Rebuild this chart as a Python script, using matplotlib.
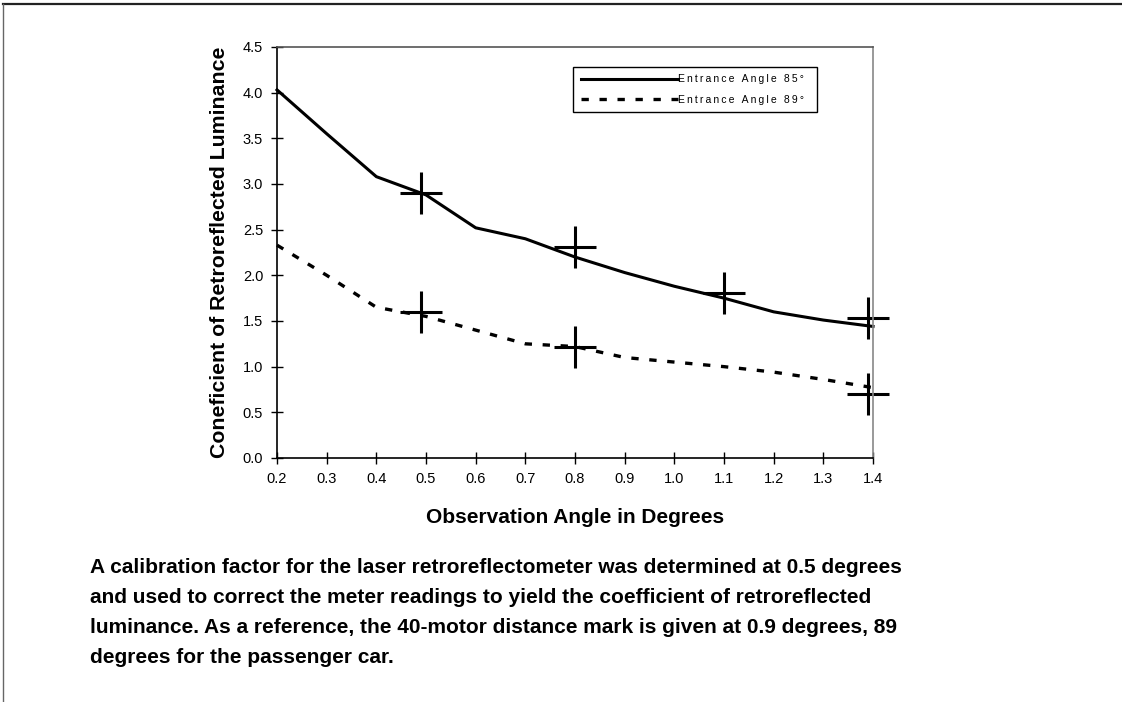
import numpy as np
import matplotlib.pyplot as plt
from matplotlib.lines import Line2D

plt.rcParams['font.family'] = ['Liberation Sans', 'DejaVu Sans']

# observation angle (degrees)
obs_angle = [0.2, 0.3, 0.4, 0.5, 0.6, 0.7, 0.8, 0.9, 1.0, 1.1, 1.2, 1.3, 1.4]
# coefficient of retroreflected luminance, fitted curves
ra_85 = [4.03, 3.55, 3.08, 2.88, 2.52, 2.40, 2.20, 2.03, 1.88, 1.75, 1.60, 1.51, 1.44]
ra_89 = [2.33, 2.00, 1.65, 1.55, 1.40, 1.25, 1.22, 1.10, 1.05, 1.00, 0.94, 0.86, 0.77]

# measured points (laser retroreflectometer)
meas_x_85 = [0.49, 0.80, 1.10, 1.39]
meas_y_85 = [2.90, 2.31, 1.81, 1.53]
meas_x_89 = [0.49, 0.80, 1.39]
meas_y_89 = [1.60, 1.21, 0.70]

series_labels = ['Entrance Angle 85°', 'Entrance Angle 89°']

x_ticks = np.arange(0.2, 1.41, 0.1)
y_ticks = np.arange(0.0, 4.51, 0.5)

caption = ("A calibration factor for the laser retroreflectometer was determined at 0.5 degrees\n"
           "and used to correct the meter readings to yield the coefficient of retroreflected\n"
           "luminance. As a reference, the 40-motor distance mark is given at 0.9 degrees, 89\n"
           "degrees for the passenger car.")


def spaced(s):
    # widen letter spacing with thin spaces
    return '\u2009'.join(s)


fig = plt.figure(figsize=(11.22, 7.02), dpi=100)
ax = fig.add_axes([0.2469, 0.3476, 0.5312, 0.5855])

ax.plot(obs_angle, ra_85, color='black', lw=2.2, label=spaced(series_labels[0]),
        clip_on=False)
ax.plot(obs_angle, ra_89, color='black', lw=2.4, linestyle=(0, (2.2, 3.2)),
        label=spaced(series_labels[1]), clip_on=False)
ax.plot(meas_x_85, meas_y_85, '+', color='black', ms=30, mew=2.2, clip_on=False)
ax.plot(meas_x_89, meas_y_89, '+', color='black', ms=30, mew=2.2, clip_on=False)

ax.set_xlim(0.2, 1.4)
ax.set_ylim(0.0, 4.5)
ax.set_xticks(x_ticks)
ax.set_yticks(y_ticks)
ax.set_xticklabels(['%.1f' % v for v in x_ticks])
ax.set_yticklabels(['%.1f' % v for v in y_ticks])
ax.tick_params(direction='inout', length=8, width=1, labelsize=10.5, pad=6,
               colors='black')

ax.spines['left'].set_color('black')
ax.spines['bottom'].set_color('black')
ax.spines['top'].set_color('#555555')
ax.spines['right'].set_color('#888888')
for s in ax.spines.values():
    s.set_linewidth(1.2)

ax.set_xlabel('Observation Angle in Degrees', fontsize=15, fontweight='bold',
              labelpad=16)
ax.set_ylabel('Coneficient of Retroreflected Luminance', fontsize=15.3,
              fontweight='bold', labelpad=10)

leg = ax.legend(loc='upper left', bbox_to_anchor=(0.497, 0.835, 0.409, 0.116),
                mode='expand', borderaxespad=0, fontsize=7.5, handlelength=9.4,
                handletextpad=0, labelspacing=1.0, borderpad=0.7,
                fancybox=False, framealpha=1)
leg.get_frame().set_edgecolor('black')
leg.get_frame().set_linewidth(1)

fig.text(0.080, 0.205, caption, fontsize=15, fontweight='bold',
         ha='left', va='top', linespacing=1.73)

# page frame lines
fig.add_artist(Line2D([0.003, 1.0], [0.994, 0.994], color='#222222', lw=1.6))
fig.add_artist(Line2D([0.003, 0.003], [0.0, 0.994], color='#666666', lw=1))

fig.savefig('out.png', dpi=100)
